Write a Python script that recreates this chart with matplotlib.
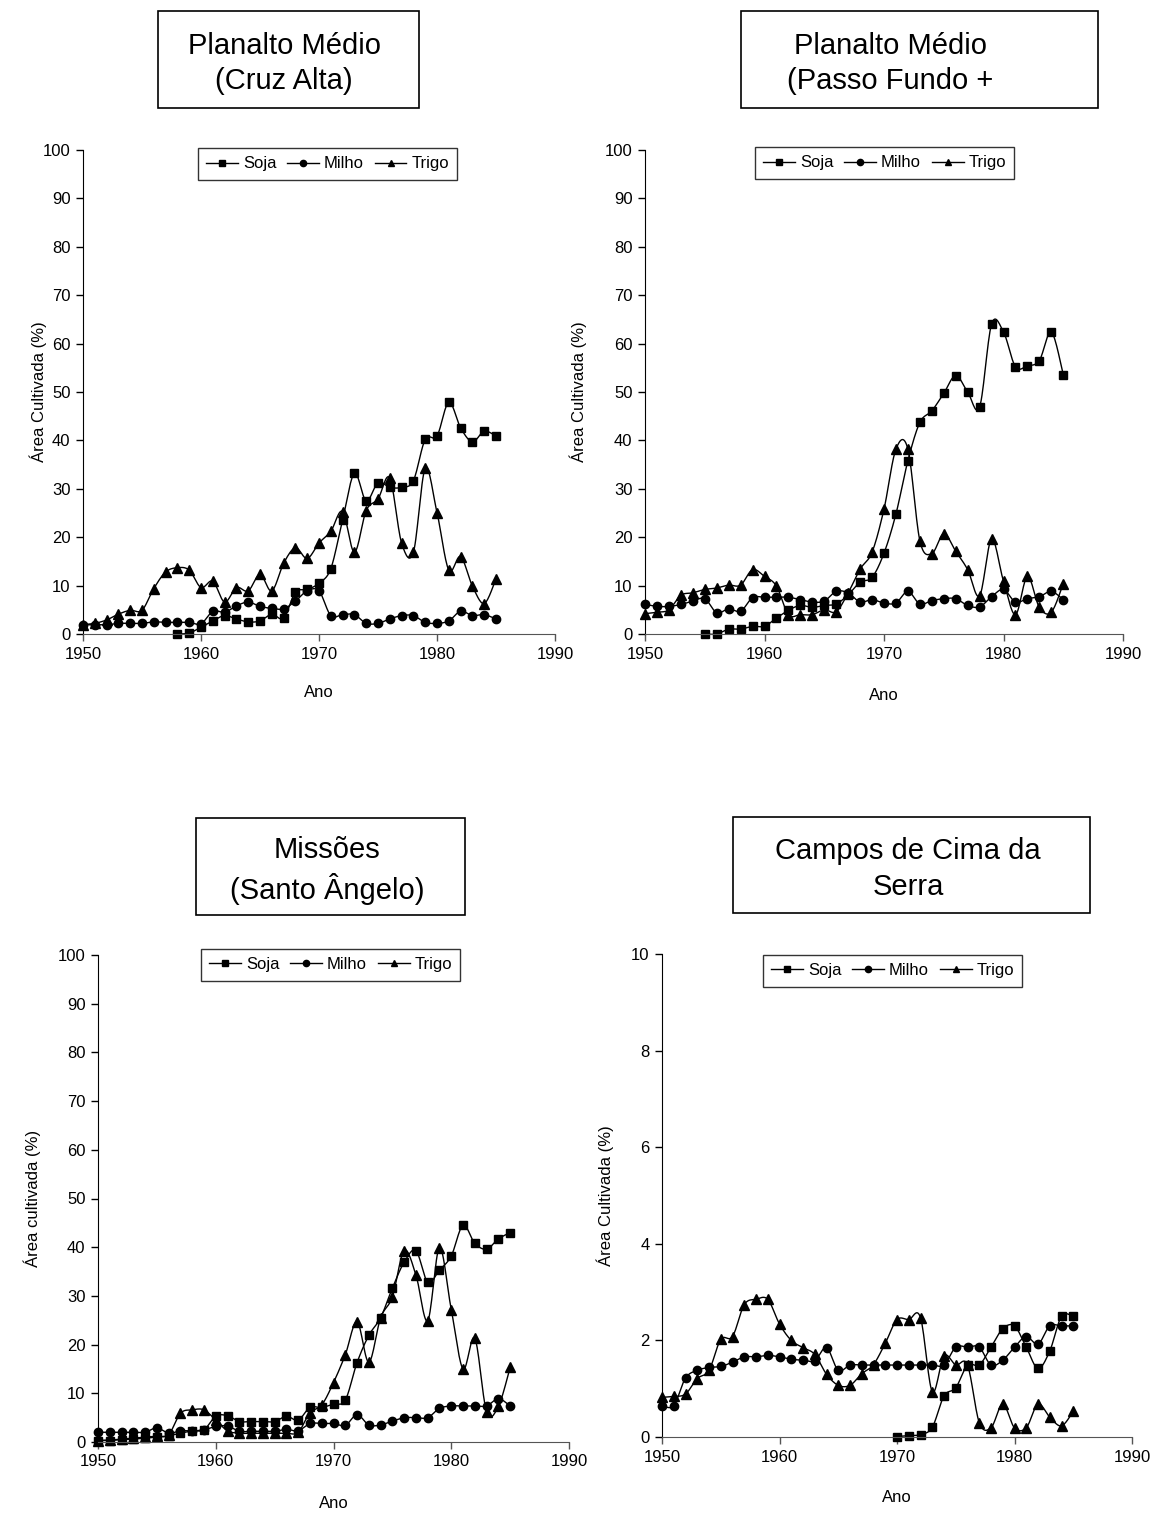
import numpy as np
import matplotlib
matplotlib.use("Agg")
import matplotlib.pyplot as plt
from matplotlib.lines import Line2D
from matplotlib.patches import Rectangle

plt.rcParams['font.family'] = ['Liberation Sans', 'DejaVu Sans']

W, H = 1156, 1513

# ---- dados: % da area cultivada ----
anos = list(range(1950, 1986))

# Planalto Medio (Cruz Alta)
ca_soja_anos = list(range(1958, 1986))
ca_soja = [0, 0.2, 1.4, 2.7, 3.8, 3.1, 2.5, 2.7, 4.1, 3.3,
           8.6, 9.2, 10.5, 13.5, 23.6, 33.2, 27.5, 31.3, 30.3, 30.3,
           31.7, 40.2, 40.9, 47.9, 42.6, 39.7, 41.9, 40.9]
ca_milho = [1.9, 1.9, 1.9, 2.2, 2.2, 2.2, 2.5, 2.4, 2.4, 2.4,
            2.1, 4.7, 4.5, 5.8, 6.6, 5.7, 5.3, 5.2, 6.8, 8.9,
            8.9, 3.8, 4.0, 4.0, 2.2, 2.2, 3.1, 3.8, 3.8, 2.4,
            2.2, 2.7, 4.7, 3.8, 4.0, 3.1]
ca_trigo = [1.9, 2.2, 2.9, 4.1, 4.9, 4.9, 9.4, 12.8, 13.7, 13.2,
            9.6, 10.9, 6.6, 9.6, 8.9, 12.3, 8.9, 14.6, 17.8, 15.6,
            18.8, 21.2, 25.3, 16.9, 25.5, 27.9, 32.2, 18.8, 16.9, 34.2,
            25.1, 13.2, 16.0, 9.9, 6.3, 11.4]

# Planalto Medio (Passo Fundo)
pf_soja_anos = list(range(1955, 1986))
pf_soja = [0, 0, 1.0, 1.0, 1.6, 1.6, 3.3, 4.9, 5.9, 5.5,
           5.9, 6.2, 8.1, 10.7, 11.7, 16.7, 24.8, 35.8, 43.7, 46.1,
           49.7, 53.4, 50.0, 46.9, 64.0, 62.4, 55.2, 55.4, 56.5, 62.4, 53.6]
pf_milho = [6.1, 5.7, 5.7, 6.1, 6.8, 7.3, 4.4, 5.2, 4.7, 7.5,
            7.6, 7.6, 7.6, 7.1, 6.6, 6.8, 8.8, 8.5, 6.6, 7.1,
            6.4, 6.4, 8.8, 6.2, 6.9, 7.3, 7.3, 5.9, 5.6, 7.7,
            9.2, 6.6, 7.3, 7.7, 8.8, 7.1]
pf_trigo = [4.2, 4.5, 5.0, 8.0, 8.5, 9.2, 9.5, 10.1, 10.1, 13.3,
            11.9, 9.9, 4.0, 4.0, 4.0, 5.0, 4.6, 8.5, 13.4, 16.9,
            25.8, 38.2, 38.2, 19.3, 16.6, 20.7, 17.1, 13.3, 7.9, 19.6,
            10.9, 4.0, 11.9, 5.5, 4.5, 10.4]

# Missoes (Santo Angelo)
sa_soja = [0.3, 0.3, 0.5, 0.6, 0.8, 1.0, 1.3, 1.8, 2.3, 2.5,
           5.3, 5.4, 4.2, 4.2, 4.2, 4.2, 5.3, 4.5, 7.1, 7.1,
           7.8, 8.6, 16.3, 21.9, 25.5, 31.6, 36.9, 39.3, 32.8, 35.3,
           38.2, 44.5, 40.8, 39.6, 41.7, 43.0]
sa_milho = [2.0, 2.0, 2.0, 2.0, 2.0, 2.9, 1.8, 2.3, 2.3, 2.5,
            3.2, 3.3, 2.2, 2.2, 2.2, 2.2, 2.6, 2.3, 3.8, 3.8,
            3.8, 3.4, 5.6, 3.5, 3.5, 4.3, 5.0, 5.0, 5.0, 6.9,
            7.4, 7.4, 7.4, 7.4, 8.9, 7.4]
sa_trigo = [0.3, 0.4, 0.6, 0.8, 1.0, 1.2, 1.5, 5.9, 6.6, 6.6,
            4.5, 2.3, 1.8, 1.8, 1.8, 1.8, 1.8, 2.0, 6.0, 7.6,
            12.2, 17.9, 24.7, 16.4, 25.5, 29.8, 39.3, 34.3, 24.9, 39.9,
            27.2, 15.0, 21.3, 6.2, 7.3, 15.3]

# Campos de Cima da Serra
cs_soja_anos = list(range(1970, 1986))
cs_soja = [0.01, 0.03, 0.05, 0.2, 0.85, 1.02, 1.49, 1.49, 1.86, 2.24,
           2.30, 1.86, 1.42, 1.78, 2.50, 2.50]
cs_milho = [0.65, 0.65, 1.22, 1.38, 1.44, 1.46, 1.55, 1.66, 1.66, 1.69,
            1.66, 1.61, 1.59, 1.58, 1.85, 1.38, 1.49, 1.49, 1.49, 1.49,
            1.49, 1.49, 1.49, 1.49, 1.49, 1.86, 1.86, 1.86, 1.49, 1.59,
            1.86, 2.08, 1.92, 2.30, 2.30, 2.30]
cs_trigo = [0.82, 0.84, 0.89, 1.21, 1.38, 2.02, 2.08, 2.74, 2.85, 2.85,
            2.34, 2.00, 1.85, 1.71, 1.30, 1.07, 1.07, 1.31, 1.50, 1.94,
            2.43, 2.43, 2.47, 0.94, 1.68, 1.49, 1.49, 0.30, 0.19, 0.68,
            0.19, 0.19, 0.68, 0.41, 0.23, 0.53]


def fx(px):
    return px / W


def fy(py):
    return 1 - py / H


def suave(x, y, n=16):
    # curva suavizada (bezier tipo catmull-rom) passando pelos pontos
    x = np.asarray(x, float)
    y = np.asarray(y, float)
    xs, ys = [x[0]], [y[0]]
    t = np.linspace(0, 1, n)[1:]
    for i in range(len(x) - 1):
        i0 = max(i - 1, 0)
        i3 = min(i + 2, len(x) - 1)
        c1x = x[i] + (x[i + 1] - x[i0]) / 6
        c1y = y[i] + (y[i + 1] - y[i0]) / 6
        c2x = x[i + 1] - (x[i3] - x[i]) / 6
        c2y = y[i + 1] - (y[i3] - y[i]) / 6
        a, b, c, d = (1 - t) ** 3, 3 * (1 - t) ** 2 * t, 3 * (1 - t) * t ** 2, t ** 3
        xs.extend(a * x[i] + b * c1x + c * c2x + d * x[i + 1])
        ys.extend(a * y[i] + b * c1y + c * c2y + d * y[i + 1])
    return xs, ys


estilo = {'Soja': dict(marker='s', ms=5.5),
          'Milho': dict(marker='o', ms=6),
          'Trigo': dict(marker='^', ms=6.5)}

paineis = [
    dict(pos=(83, 150, 555, 634), ymax=100, ystep=10, ylabel='Área Cultivada (%)',
         series=[('Soja', ca_soja_anos, ca_soja), ('Milho', anos, ca_milho), ('Trigo', anos, ca_trigo)],
         titulo='Planalto Médio\n(Cruz Alta)', caixa=(158, 11, 419, 108), tx=284,
         leg=(198, 148), ylab_x=38, xlab_y=692),
    dict(pos=(645, 150, 1123, 634), ymax=100, ystep=10, ylabel='Área Cultivada (%)',
         series=[('Soja', pf_soja_anos, pf_soja), ('Milho', anos, pf_milho), ('Trigo', anos, pf_trigo)],
         titulo='Planalto Médio\n(Passo Fundo +', caixa=(741, 11, 1098, 108), tx=890,
         leg=(755, 147), ylab_x=578, xlab_y=695),
    dict(pos=(98, 955, 569, 1442), ymax=100, ystep=10, ylabel='Área cultivada (%)',
         series=[('Soja', anos, sa_soja), ('Milho', anos, sa_milho), ('Trigo', anos, sa_trigo)],
         titulo='Missões\n(Santo Ângelo)', caixa=(196, 818, 465, 915), tx=327,
         leg=(201, 949), ylab_x=32, xlab_y=1503),
    dict(pos=(662, 954, 1132, 1437), ymax=10, ystep=2, ylabel='Área Cultivada (%)',
         series=[('Soja', cs_soja_anos, cs_soja), ('Milho', anos, cs_milho), ('Trigo', anos, cs_trigo)],
         titulo='Campos de Cima da\nSerra', caixa=(733, 817, 1090, 913), tx=908,
         leg=(763, 955), ylab_x=605, xlab_y=1497),
]

fig = plt.figure(figsize=(W / 100, H / 100), dpi=100)

for p in paineis:
    x0, y0, x1, y1 = p['pos']
    ax = fig.add_axes([fx(x0), fy(y1), (x1 - x0) / W, (y1 - y0) / H])
    for nome, xs, ys in p['series']:
        sx, sy = suave(xs, ys)
        ax.plot(sx, sy, color='black', lw=1.0, clip_on=False)
        ax.plot(xs, ys, ls='none', color='black', clip_on=False, **estilo[nome])
    ax.set_xlim(1950, 1990)
    ax.set_ylim(0, p['ymax'])
    ax.set_xticks(range(1950, 1991, 10))
    ax.set_yticks(np.arange(0, p['ymax'] + 0.1, p['ystep']))
    ax.yaxis.set_major_formatter(matplotlib.ticker.FormatStrFormatter('%d'))
    for s in ('top', 'right'):
        ax.spines[s].set_visible(False)
    ax.spines['left'].set_color('black')
    ax.spines['bottom'].set_color('#555555')
    ax.tick_params(labelsize=12, length=5, width=1, pad=4)
    ax.tick_params(axis='x', colors='#555555', labelcolor='black')

    # legenda
    handles = [Line2D([], [], color='black', lw=1.0, **estilo[n]) for n in ('Soja', 'Milho', 'Trigo')]
    lg = ax.legend(handles, ['Soja', 'Milho', 'Trigo'], ncol=3, loc='upper left',
                   bbox_to_anchor=(fx(p['leg'][0]), fy(p['leg'][1])), bbox_transform=fig.transFigure,
                   fontsize=12, frameon=True, fancybox=False, edgecolor='black',
                   handlelength=1.9, handletextpad=0.3, columnspacing=0.65,
                   borderpad=0.5, borderaxespad=0)
    lg.get_frame().set_linewidth(1.0)
    for h in lg.legend_handles:
        h.set_markersize(4.5)

    # rotulos dos eixos
    fig.text(fx(p['ylab_x']), fy((y0 + y1) / 2), p['ylabel'], rotation=90,
             ha='center', va='center', fontsize=12)
    fig.text(fx((x0 + x1) / 2), fy(p['xlab_y']), 'Ano', ha='center', va='center', fontsize=12)

    # caixa de titulo
    bx0, by0, bx1, by1 = p['caixa']
    fig.patches.append(Rectangle((fx(bx0), fy(by1)), (bx1 - bx0) / W, (by1 - by0) / H,
                                 transform=fig.transFigure, fill=False, ec='black', lw=1.2))
    fig.text(fx(p['tx']), fy((by0 + by1) / 2 + 4), p['titulo'], ha='center', va='center',
             fontsize=21, linespacing=1.32)

fig.savefig('out.png', dpi=100)
